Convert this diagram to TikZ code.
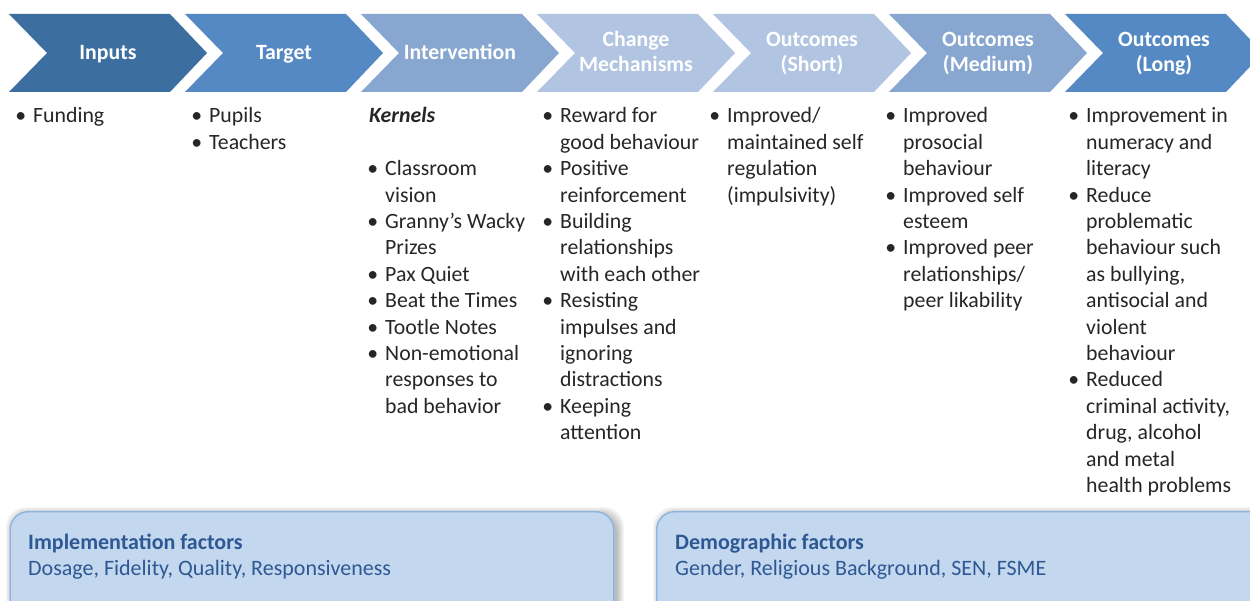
\documentclass[tikz,border=0pt]{standalone}
\usepackage{fontspec}
\setmainfont{Carlito}
\definecolor{cInputs}{HTML}{3C6E9F}
\definecolor{cTarget}{HTML}{5589C4}
\definecolor{cInterv}{HTML}{87A6D0}
\definecolor{cPale}{HTML}{B1C4E1}
\definecolor{txt}{HTML}{262626}
\definecolor{boxfill}{HTML}{C3D7EE}
\definecolor{boxline}{HTML}{8DB3E2}
\definecolor{boxtext}{HTML}{2E5894}
\newcommand\bodyfont{\fontsize{21.8}{26.4}\selectfont}
\newcommand\headfont{\fontsize{21.8}{25}\selectfont\bfseries}
\newcommand\fbfont{\fontsize{22}{25.7}\selectfont}
\newcommand\bl{\makebox[0pt][r]{\textbullet\hspace{7pt}}}
\newcommand\hd[1]{\begin{tabular}[t]{@{}c@{}}#1\end{tabular}}
\newcommand\lst[1]{\begin{tabular}[t]{@{}l@{}}#1\end{tabular}}
\newcommand\chev[3]{\fill[#2] (#1,14) -- ++(161,0) -- ++(37,39) -- ++(-37,39) -- ++(-161,0) -- ++(38,-39) -- cycle;}
\begin{document}
\begin{tikzpicture}[x=1pt,y=-1pt,
  headtext/.style={text=white,font=\headfont,inner sep=0pt,anchor=base},
  coltext/.style={text=txt,font=\bodyfont,inner sep=0pt,anchor=base west},
  fbox/.style={draw=boxline,line width=1.4pt,fill=boxfill,rounded corners=18pt,anchor=north west,inner sep=0pt},
  fbtext/.style={text=boxtext,font=\fbfont,inner sep=0pt,anchor=base west}]
\useasboundingbox (0,0) rectangle (1250,601);
\clip (0,0) rectangle (1250,601);
\fill[white] (0,0) rectangle (1250,601);
% chevrons
\chev{9}{cInputs}{}
\chev{185}{cTarget}{}
\chev{361}{cInterv}{}
\chev{537}{cPale}{}
\chev{713}{cPale}{}
\chev{889}{cInterv}{}
\chev{1065}{cTarget}{}
% headers
\node[headtext] (hInputs) at (108,59.3) {\hd{Inputs}};
\node[headtext] (hTarget) at (284,59.3) {\hd{Target}};
\node[headtext] (hInterv) at (460,59.3) {\hd{Intervention}};
\node[headtext] (hChange) at (636,46.7) {\hd{Change\\Mechanisms}};
\node[headtext] (hShort) at (812,46.7) {\hd{Outcomes\\(Short)}};
\node[headtext] (hMedium) at (988,46.7) {\hd{Outcomes\\(Medium)}};
\node[headtext] (hLong) at (1164,46.7) {\hd{Outcomes\\(Long)}};
% columns
\node[coltext] (cInputs) at (33,123) {\lst{\bl Funding}};
\node[coltext] (cTarget) at (209,123) {\lst{\bl Pupils\\ \bl Teachers}};
\node[coltext] (cKernels) at (369,123) {\textbf{\textit{Kernels}}};
\node[coltext] (cInterv) at (385,175.8) {\lst{\bl Classroom\\ vision\\ \bl Granny’s Wacky\\ Prizes\\ \bl Pax Quiet\\ \bl Beat the Times\\ \bl Tootle Notes\\ \bl Non-emotional\\ responses to\\ bad behavior}};
\node[coltext] (cChange) at (560,123) {\lst{\bl Reward for\\ good behaviour\\ \bl Positive\\ reinforcement\\ \bl Building\\ relationships\\ with each other\\ \bl Resisting\\ impulses and\\ ignoring\\ distractions\\ \bl Keeping\\ attention}};
\node[coltext] (cShort) at (727,123) {\lst{\bl Improved/\\ maintained self\\ regulation\\ (impulsivity)}};
\node[coltext] (cMedium) at (903,123) {\lst{\bl Improved\\ prosocial\\ behaviour\\ \bl Improved self\\ esteem\\ \bl Improved peer\\ relationships/\\ peer likability}};
\node[coltext] (cLong) at (1086,123) {\lst{\bl Improvement in\\ numeracy and\\ literacy\\ \bl Reduce\\ problematic\\ behaviour such\\ as bullying,\\ antisocial and\\ violent\\ behaviour\\ \bl Reduced\\ criminal activity,\\ drug, alcohol\\ and metal\\ health problems}};
% shadows
\foreach \i in {0,...,7} {
  \fill[black,opacity=0.035,rounded corners=20pt] ({13-\i},{514-\i}) rectangle ({617+\i},{650+\i});
  \fill[black,opacity=0.035,rounded corners=20pt] ({660-\i},{514-\i}) rectangle ({1280+\i},{650+\i});
}
% factor boxes
\node[fbox,minimum width=603.5pt,minimum height=130pt] (impl) at (9.5,511) {};
\node[fbox,minimum width=620pt,minimum height=130pt] (demo) at (656,511) {};
\node[fbtext] (impltext) at (28,549.3) {\lst{\textbf{Implementation factors}\\ Dosage, Fidelity, Quality, Responsiveness}};
\node[fbtext] (demotext) at (675,549.3) {\lst{\textbf{Demographic factors}\\ Gender, Religious Background, SEN, FSME}};
\end{tikzpicture}
\end{document}
